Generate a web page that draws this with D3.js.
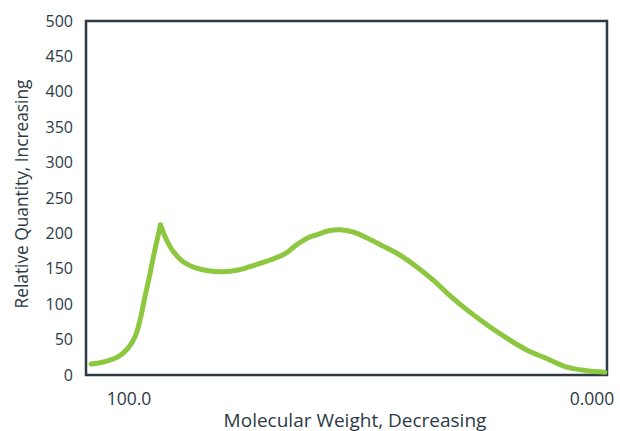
<!DOCTYPE html>
<html>
<head>
<meta charset="utf-8">
<script src="https://cdn.jsdelivr.net/npm/d3@7"></script>
<style>
  body { margin: 0; background: #fff; }
  text { font-family: "Open Sans", sans-serif; fill: #2d3a44; }
</style>
</head>
<body>
<svg id="chart" width="620" height="431"></svg>
<script>
// molecular weight (decreasing to the right) and relative quantity
var mw = [108.2, 105.2, 102.3, 100.2, 98.7, 97.6, 96.7, 95.5, 94.8, 93.2,
          91.9, 90.4, 88.3, 85.4, 82.5, 79.6, 76.7, 73.9, 71.0, 68.1, 65.9, 63.8, 61.3, 59.5,
          56.6, 54.4, 51.6, 48.7, 45.1, 41.5, 37.9, 34.3, 31.0, 27.0, 22.7, 18.4, 14.0, 9.7, 5.4, 1.1, -2.8];
var qty = [15.5, 19, 26, 38, 54, 78, 106, 142, 165, 212,
           191, 174, 160, 151, 147, 146, 148, 153, 159, 166, 173, 184, 194, 198,
           204, 205, 202, 194, 182, 169.5, 153, 134, 114, 92, 71, 52, 35, 23, 11, 6, 4];
var peakIndex = 9;
var yTicks = [0, 50, 100, 150, 200, 250, 300, 350, 400, 450, 500];
var xTicks = [100, 0];
var xTickLabels = ['100.0', '0.000'];

var svg = d3.select('#chart');
var plotLeft = 86, plotRight = 607, plotTop = 21, plotBottom = 375;

var x = d3.scaleLinear().domain([100, 0]).range([129, 592]);
var y = d3.scaleLinear().domain([0, 500]).range([plotBottom, plotTop]);

// frame
svg.append('rect')
  .attr('x', plotLeft)
  .attr('y', plotTop)
  .attr('width', plotRight - plotLeft)
  .attr('height', plotBottom - plotTop)
  .attr('fill', 'none')
  .attr('stroke', '#2d3a44')
  .attr('stroke-width', 2.5);

svg.selectAll('.ytick')
  .data(yTicks)
  .enter().append('text')
  .attr('class', 'ytick')
  .attr('x', 73)
  .attr('y', d => y(d))
  .attr('dy', '0.35em')
  .attr('text-anchor', 'end')
  .style('font-size', '16px')
  .text(d => d);

svg.selectAll('.xtick')
  .data(xTicks)
  .enter().append('text')
  .attr('class', 'xtick')
  .attr('x', d => x(d))
  .attr('y', 405)
  .attr('text-anchor', 'middle')
  .style('font-size', '17.5px')
  .text((d, i) => xTickLabels[i]);

svg.append('text')
  .attr('x', 355)
  .attr('y', 427)
  .attr('text-anchor', 'middle')
  .style('font-size', '19px')
  .text('Molecular Weight, Decreasing');

svg.append('text')
  .attr('transform', 'translate(28,194) rotate(-90)')
  .attr('text-anchor', 'middle')
  .style('font-size', '17.3px')
  .text('Relative Quantity, Increasing');

var line = d3.line()
  .x(d => x(d[0]))
  .y(d => y(d[1]))
  .curve(d3.curveCatmullRom.alpha(0.5));

var pts = mw.map((m, i) => [m, qty[i]]);
// rising and falling sides meet in a sharp peak
var parts = [pts.slice(0, peakIndex + 1), pts.slice(peakIndex)];

svg.selectAll('.curve')
  .data(parts)
  .enter().append('path')
  .attr('class', 'curve')
  .attr('d', line)
  .attr('fill', 'none')
  .attr('stroke', '#8dc63f')
  .attr('stroke-width', 5)
  .attr('stroke-linejoin', 'round')
  .attr('stroke-linecap', 'round');
</script>
</body>
</html>
